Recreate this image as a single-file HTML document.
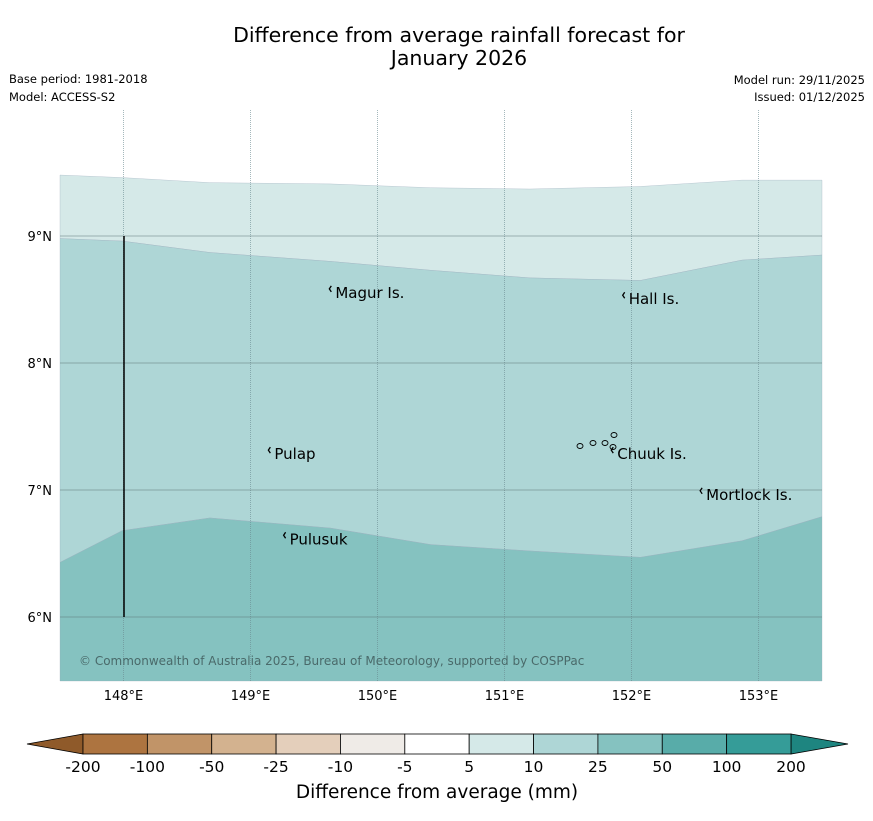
<!DOCTYPE html>
<html><head><meta charset="utf-8"><style>
body{margin:0;background:#fff;font-family:"Liberation Sans","DejaVu Sans",sans-serif}
</style></head><body>
<svg id="chart" width="873" height="816" xmlns="http://www.w3.org/2000/svg" font-family="DejaVu Sans, Liberation Sans, sans-serif">
<rect width="873" height="816" fill="#fff"/>
<text x="459" y="42" text-anchor="middle" font-size="20.5">Difference from average rainfall forecast for</text>
<text x="459" y="65" text-anchor="middle" font-size="20.5">January 2026</text>
<text x="9" y="83" font-size="11.5">Base period: 1981-2018</text>
<text x="9" y="101" font-size="11.5">Model: ACCESS-S2</text>
<text x="865" y="84" text-anchor="end" font-size="11.5">Model run: 29/11/2025</text>
<text x="865" y="101" text-anchor="end" font-size="11.5">Issued: 01/12/2025</text>
<g id="map"></g>
<g id="cbar"></g>
<text x="437" y="798" text-anchor="middle" font-size="18.5">Difference from average (mm)</text>
</svg>
<script>
const lons=[147.5,147.99,148.68,149.63,150.42,151.2,152.07,152.87,153.5];
const contour5=[9.48,9.46,9.42,9.41,9.38,9.37,9.39,9.44,9.44];
const contour10=[8.98,8.96,8.87,8.80,8.73,8.67,8.65,8.81,8.85];
const contour25=[6.43,6.68,6.78,6.70,6.57,6.52,6.47,6.60,6.79];
const lonTicks=[148,149,150,151,152,153];
const latTicks=[9,8,7,6];
const places=["Magur Is.","Hall Is.","Pulap","Chuuk Is.","Mortlock Is.","Pulusuk"];
const placeLon=[149.66,151.97,149.18,151.88,152.58,149.3];
const placeLat=[8.56,8.51,7.29,7.29,6.97,6.62];
const cbLabels=["-200","-100","-50","-25","-10","-5","5","10","25","50","100","200"];
const cbColors=["#ad7440","#c19468","#d3b28f","#e4cfbb","#efebe7","#ffffff","#d5e9e8","#aed6d6","#85c2c0","#58aca9","#359c98"];
const x=lon=>60+(lon-147.5)*127;
const y=lat=>236+(9-lat)*127;
const NS="http://www.w3.org/2000/svg";
function mk(p,t,a){const e=document.createElementNS(NS,t);for(const k in a)e.setAttribute(k,a[k]);p.appendChild(e);return e;}
const m=document.getElementById('map');
function poly(top,bot,fill,name){
 let pts=lons.map((l,i)=>x(l)+','+y(top[i]));
 let b=bot?lons.map((l,i)=>x(l)+','+y(bot[i])).reverse():[x(153.5)+','+681,x(147.5)+','+681];
 const e=mk(m,'polygon',{points:pts.concat(b).join(' '),fill:fill,stroke:'#9ab',"stroke-width":0.3});
 
 
}
poly(contour5,contour10,'#d5e9e8','band-5-10');
poly(contour10,contour25,'#aed6d6','band-10-25');
poly(contour25,null,'#85c2c0','band-25-50');
lonTicks.forEach(l=>{
 const g=mk(m,'line',{x1:x(l),x2:x(l),y1:110,y2:681,stroke:'#6a8a90','stroke-width':0.6,'stroke-dasharray':'1,1'});
 
 
 const t=mk(m,'text',{x:x(l),y:700,'text-anchor':'middle','font-size':13});t.textContent=l+'°E';
 
 
});
latTicks.forEach(l=>{
 const g=mk(m,'line',{x1:60,x2:822,y1:y(l),y2:y(l),stroke:'#5e7676','stroke-width':0.6});
 
 
 const t=mk(m,'text',{x:52,y:y(l)+5,'text-anchor':'end','font-size':13});t.textContent=l+'°N';
 
 
});
const vl=mk(m,'line',{x1:124,x2:124,y1:y(9),y2:y(6),stroke:'#000','stroke-width':1.5});


places.forEach((p,i)=>{
 const d=mk(m,'path',{d:`M${x(placeLon[i])-3},${y(placeLat[i])-6} l-2,3 l2,3`,fill:'none',stroke:'#000','stroke-width':1.3});
 
 
 const t=mk(m,'text',{x:x(placeLon[i])+1,y:y(placeLat[i])+6,'font-size':15});t.textContent=p;
 
 
});
// Chuuk lagoon islets
[[580,446],[593,443],[605,443],[613,447],[614,435]].forEach(p=>{
 const e=mk(m,'ellipse',{cx:p[0],cy:p[1],rx:3,ry:2.5,fill:'none',stroke:'#000','stroke-width':0.9});
 
 
});
const cr=mk(m,'text',{x:79,y:665,'font-size':12,fill:'#4a6a6a'});cr.textContent='© Commonwealth of Australia 2025, Bureau of Meteorology, supported by COSPPac';


const c=document.getElementById('cbar');
const w=(791-83)/cbColors.length;
const lt=mk(c,'polygon',{points:'83,734 27,744 83,754',fill:'#8f5a2a',stroke:'#000','stroke-width':0.8});


const rt=mk(c,'polygon',{points:'791,734 848,744 791,754',fill:'#1e8580',stroke:'#000','stroke-width':0.8});


cbColors.forEach((col,i)=>{
 const r=mk(c,'rect',{x:83+i*w,y:734,width:w,height:20,fill:col,stroke:'#000','stroke-width':0.8});
 
 
});
cbLabels.forEach((l,i)=>{
 const t=mk(c,'text',{x:83+i*w,y:772,'text-anchor':'middle','font-size':15.5});t.textContent=l;
 
 
});
</script>
</body></html>
